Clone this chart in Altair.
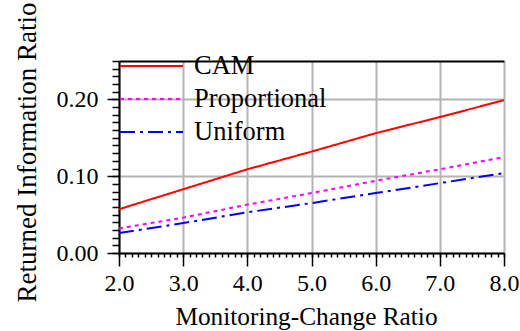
import altair as alt
import pandas as pd

ratios = [2.0, 3.0, 4.0, 5.0, 6.0, 7.0, 8.0]
cam = [0.057, 0.083, 0.109, 0.132, 0.156, 0.177, 0.199]
proportional = [0.032, 0.046, 0.063, 0.078, 0.094, 0.109, 0.125]
uniform = [0.026, 0.039, 0.053, 0.065, 0.078, 0.091, 0.104]

series_names = ["CAM", "Proportional", "Uniform"]
series_colors = ["#ff0000", "#ff00ff", "#0000ff"]
series_dashes = [[1, 0], [4, 4], [15, 5, 3, 5]]

x_major = [2.0, 3.0, 4.0, 5.0, 6.0, 7.0, 8.0]
y_major = [0.0, 0.1, 0.2]
x_minor = [round(2.0 + 0.1 * i, 2) for i in range(61)]
y_minor = [round(0.01 * i, 2) for i in range(26)]

rows = []
for name, vals in zip(series_names, [cam, proportional, uniform]):
    for r, v in zip(ratios, vals):
        rows.append({"ratio": r, "value": v, "series": name})
df = pd.DataFrame(rows)

FONT = "Liberation Serif"
xscale = alt.Scale(domain=[2, 8], nice=False, zero=False)
yscale = alt.Scale(domain=[0, 0.25], nice=False)

legend = alt.Legend(orient="none", legendX=0, legendY=-8, title=None,
                    symbolType="stroke", symbolSize=3969, symbolStrokeWidth=2,
                    labelFont=FONT, labelFontSize=26.5, labelColor="black",
                    labelOffset=10, rowPadding=6, padding=0, clipHeight=26)

base = alt.Chart(df)

lines = base.mark_line(strokeWidth=2, clip=True).encode(
    x=alt.X("ratio:Q", scale=xscale, axis=alt.Axis(
        orient="bottom", values=x_major, format=".1f", title="Monitoring-Change Ratio",
        grid=True, gridColor="#b4b4b4", gridWidth=2, domain=True, domainColor="black",
        domainWidth=2, ticks=True, tickSize=13, tickColor="black", tickWidth=1.5,
        labelFont=FONT, labelFontSize=24, labelColor="black", labelPadding=5,
        labelFlush=False, labelOverlap=False,
        titleFont=FONT, titleFontSize=25.3, titleFontWeight="normal", titleColor="black",
        titleX=187, titleY=71, titleBaseline="alphabetic", titleAlign="center")),
    y=alt.Y("value:Q", scale=yscale, axis=alt.Axis(
        orient="left", values=y_major, format=".2f", title="Returned Information Ratio",
        grid=True, gridColor="#b4b4b4", gridWidth=2, domain=True, domainColor="black",
        domainWidth=2, ticks=True, tickSize=12, tickColor="black", tickWidth=1.5,
        labelFont=FONT, labelFontSize=24, labelColor="black", labelPadding=9,
        labelFlush=False, labelOverlap=False,
        titleFont=FONT, titleFontSize=27, titleFontWeight="normal", titleColor="black",
        titleX=-84, titleY=91, titleAngle=270, titleBaseline="alphabetic", titleAlign="center")),
    color=alt.Color("series:N", scale=alt.Scale(domain=series_names, range=series_colors),
                    legend=legend),
    strokeDash=alt.StrokeDash("series:N", scale=alt.Scale(domain=series_names, range=series_dashes),
                              legend=legend),
)

minor = base.mark_point(opacity=0).encode(
    x=alt.X("ratio:Q", scale=xscale, axis=alt.Axis(
        orient="bottom", values=x_minor, labels=False, title=None, grid=False,
        domain=False, ticks=True, tickSize=4, tickColor="black", tickWidth=1.5)),
    y=alt.Y("value:Q", scale=yscale, axis=alt.Axis(
        orient="left", values=y_minor, labels=False, title=None, grid=False,
        domain=False, ticks=True, tickSize=7, tickColor="black", tickWidth=1.5)),
)

top = base.mark_point(opacity=0).encode(
    x=alt.X("ratio:Q", scale=xscale, axis=alt.Axis(
        orient="top", labels=False, title=None, grid=False, domain=True,
        domainColor="black", domainWidth=2, ticks=False)),
    y=alt.Y("value:Q", scale=yscale, axis=None),
)

chart = alt.layer(lines, minor, top).resolve_axis(
    x="independent", y="independent"
).properties(
    width=385, height=192,
    autosize=alt.AutoSizeParams(type="none"),
    padding={"left": 119, "top": 61, "right": 16, "bottom": 78},
).configure(
    background="white", font=FONT
).configure_view(stroke=None).configure_axis(
    labelFont=FONT, titleFont=FONT
).configure_legend(labelFont=FONT)

chart.save("out.html", embed_options={"renderer": "svg", "actions": False})
